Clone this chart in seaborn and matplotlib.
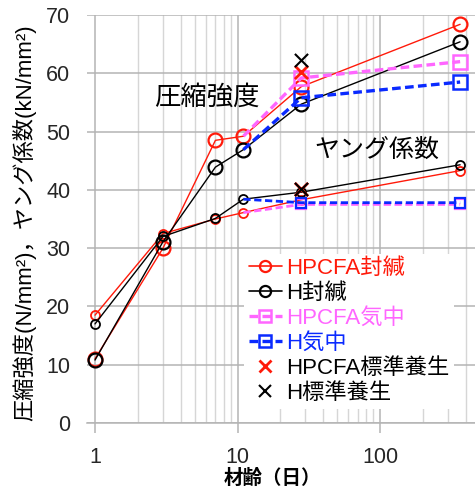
import numpy as np
import pandas as pd
import matplotlib
matplotlib.use("Agg")
import matplotlib.pyplot as plt
import seaborn as sns
from matplotlib.lines import Line2D

# ---- data -------------------------------------------------------------
days = [1, 3, 7, 11, 28, 365]
days_air = [11, 28, 365]
days_std = [28, 28]

# sealed curing: compressive strength (N/mm2) and Young's modulus (kN/mm2)
hpcfa_sealed_strength = [11.0, 30.0, 48.5, 49.2, 57.7, 68.4]
h_sealed_strength = [10.8, 31.1, 43.9, 46.9, 54.7, 65.4]
hpcfa_sealed_modulus = [18.5, 32.5, 35.0, 36.1, 38.3, 43.3]
h_sealed_modulus = [17.0, 32.0, 35.1, 38.4, 39.6, 44.3]

# air curing after demoulding
hpcfa_air_strength = [49.2, 59.2, 62.0]
h_air_strength = [46.9, 55.8, 58.5]
hpcfa_air_modulus = [36.1, 37.5, 37.5]
h_air_modulus = [38.4, 37.8, 37.8]

# standard water curing at 28 days (strength, modulus)
hpcfa_std = [60.3, 40.2]
h_std = [62.3, 40.2]

labels = ["HPCFA封緘", "H封緘", "HPCFA気中", "H気中", "HPCFA標準養生", "H標準養生"]
x_ticks = [1, 10, 100]
y_ticks = [0, 10, 20, 30, 40, 50, 60, 70]

RED = "#ff1a0a"
BLACK = "#000000"
PINK = "#ff66ff"
BLUE = "#0a2aff"

# ---- style ------------------------------------------------------------
sns.set_theme(style="white")
plt.rcParams["font.family"] = ["Liberation Sans", "Noto Sans CJK JP"]

fig = plt.figure(figsize=(4.75, 4.92), dpi=100)
ax = fig.add_axes([87 / 475, 69 / 492, 388 / 475, 408 / 492])
ax.set_xscale("log")


def line(x, y, color, marker, ms, mew, lw, ls="-", markevery=None, z=2):
    sns.lineplot(x=x, y=y, ax=ax, color=color, marker=marker, markersize=ms,
                 markerfacecolor="none", markeredgecolor=color,
                 markeredgewidth=mew, linewidth=lw, linestyle=ls,
                 markevery=markevery, legend=False, sort=False, zorder=z)


# sealed curing
line(days, hpcfa_sealed_modulus, RED, "o", 6.5, 1.3, 1.0)
line(days, hpcfa_sealed_strength, RED, "o", 10, 1.6, 1.0)
line(days, h_sealed_modulus, BLACK, "o", 6.5, 1.3, 1.0, z=3)
line(days, h_sealed_strength, BLACK, "o", 10, 1.6, 1.0, z=3)

# air curing
dash = (0, (2.6, 1.3))
line(days_air, hpcfa_air_strength, PINK, "s", 10.5, 1.8, 2.4, dash, [1, 2], z=4)
line(days_air, hpcfa_air_modulus, PINK, "s", 6.5, 1.6, 2.0, dash, [1, 2], z=4)
line(days_air, h_air_strength, BLUE, "s", 10.5, 1.8, 2.4, dash, [1, 2], z=5)
line(days_air, h_air_modulus, BLUE, "s", 6.5, 1.6, 2.0, dash, [1, 2], z=5)

# standard curing
sns.scatterplot(x=days_std, y=hpcfa_std, ax=ax, marker="x", s=90, color=RED,
                linewidth=2.0, legend=False, zorder=6)
sns.scatterplot(x=days_std, y=h_std, ax=ax, marker="x", s=90, color=BLACK,
                linewidth=1.5, legend=False, zorder=6)

# ticks and grid
x_lo, x_hi = 10 ** (-8 / 142.5), 10 ** (380 / 142.5)
ax.set_xticks(x_ticks)
ax.set_xticklabels([str(v) for v in x_ticks])
minor = [m * 10 ** e for e in range(0, 3) for m in range(2, 10)]
ax.set_xticks([v for v in minor if v < x_hi], minor=True)
ax.set_yticks(y_ticks)
# ranges set last so nothing above can widen them
ax.set_xlim(x_lo, x_hi)
ax.set_ylim(0, 70)
ax.grid(which="major", axis="both", color="#b4b4b4", linewidth=1.1)
ax.grid(which="minor", axis="x", color="#d6d6d6", linewidth=1.0)
ax.set_axisbelow(True)
for s in ["top", "right", "left"]:
    ax.spines[s].set_visible(False)
ax.spines["bottom"].set_color("#b4b4b4")
ax.spines["bottom"].set_linewidth(1.1)
ax.tick_params(axis="x", which="major", length=7, width=1.1, color="#b4b4b4",
               labelsize=15.5, pad=10, bottom=True)
ax.tick_params(axis="x", which="minor", length=0)
ax.tick_params(axis="y", length=0, labelsize=15.5, pad=12)

# group captions
ax.text(6.1, 55.9, "圧縮強度", fontsize=19, ha="center", va="center",
        family=["Noto Sans CJK JP"], color="black")
ax.text(95, 46.8, "ヤング係数", fontsize=18, ha="center", va="center",
        family=["Noto Sans CJK JP"], color="black")

# axis labels
ax.set_ylabel("圧縮強度(N/mm²)，ヤング係数(kN/mm²)", fontsize=16, labelpad=6,
              color="black")
ax.yaxis.set_label_coords(-(87 - 24) / 388, 0.49)
ax.yaxis.label.set_va("center")
ax.set_xlabel("材齢（日）", fontsize=14, fontweight="bold", labelpad=2,
              color="black")
ax.xaxis.set_label_coords((272 - 87) / 388, -(478 - 423) / 408)
ax.xaxis.label.set_va("center")

# legend
handles = [
    Line2D([], [], color=RED, marker="o", ms=8, mfc="none", mew=1.6, lw=1.2),
    Line2D([], [], color=BLACK, marker="o", ms=8, mfc="none", mew=1.6, lw=1.2),
    Line2D([], [], color=PINK, marker="s", ms=8, mfc="none", mew=1.8, lw=2.4, ls=dash),
    Line2D([], [], color=BLUE, marker="s", ms=8, mfc="none", mew=1.8, lw=2.4, ls=dash),
    Line2D([], [], color=RED, marker="x", ms=9, mew=2.0, lw=0),
    Line2D([], [], color=BLACK, marker="x", ms=9, mew=1.5, lw=0),
]
leg = ax.legend(handles, labels, loc="upper left", bbox_to_anchor=(0.405, 0.415),
                frameon=True, framealpha=1, facecolor="white", edgecolor="none",
                fontsize=16, handlelength=1.5, handletextpad=0.2,
                labelspacing=0.18, borderpad=0.2, borderaxespad=0)
leg.set_zorder(10)
text_colors = [RED, BLACK, PINK, BLUE, BLACK, BLACK]
for t, c in zip(leg.get_texts(), text_colors):
    t.set_color(c)

fig.savefig("out.png", dpi=100)
